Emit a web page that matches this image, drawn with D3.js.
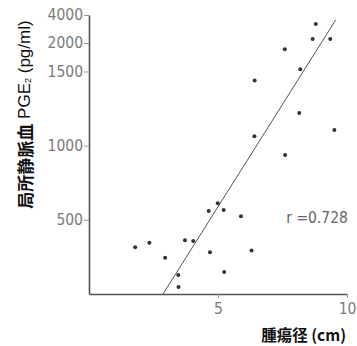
<!DOCTYPE html>
<html lang="ja">
<head>
<meta charset="UTF-8">
<title>腫瘍径と局所静脈血PGE2</title>
<script src="https://d3js.org/d3.v7.min.js"></script>
<style>
  body { margin: 0; background: #fff; }
  .title { font-family: "Noto Sans CJK JP", sans-serif; font-weight: bold; fill: #111; }
</style>
</head>
<body>
<svg width="357" height="346"></svg>
<script>
// tumor diameter (cm)
const diameter = [8.79, 8.67, 9.35, 7.59, 8.19, 6.42, 8.15, 9.51, 6.41, 7.60, 4.99, 4.64,
                  5.22, 5.89, 1.79, 2.34, 2.95, 3.72, 4.04, 4.69, 6.30, 3.46, 5.24, 3.47];
// local venous PGE2 (pg/ml)
const pge2 = [3360, 2290, 2290, 1890, 1540, 1440, 1220, 1105, 1063, 937, 612, 560,
              567, 524, 316, 345, 244, 362, 358, 282, 294, 128, 148, 48];
// regression line endpoints
const fitX = [2.87, 9.56];
const fitY = [0, 3640];
const yTicks = [500, 1000, 1500, 2000, 4000];
const xTicks = [5, 10];
const rLabel = "r =0.728";

const svg = d3.select("svg");

const x = d3.scaleLinear().domain([0, 10]).range([89, 347]);
// compressed scale above 1500
const y = d3.scaleLinear().domain([0, 1500, 2000, 4000]).range([294, 71.5, 43, 15]);

function tickFont(sel) {
  sel.attr("fill", null)
    .style("font-family", "'DejaVu Sans', sans-serif")
    .style("font-stretch", "condensed")
    .style("font-size", "15.5px")
    .style("fill", "#7a7a7a");
}

// axes
const yAxis = svg.append("g").attr("transform", "translate(89,0)")
  .call(d3.axisLeft(y).tickValues(yTicks).tickFormat(d3.format("d"))
    .tickSize(5).tickSizeOuter(0).tickPadding(1));
yAxis.select(".domain").attr("stroke", "#555").attr("stroke-width", 1.6);
yAxis.selectAll(".tick line").attr("stroke", "#999");
yAxis.selectAll(".tick text").call(tickFont);

const xAxis = svg.append("g").attr("transform", `translate(0,${y(0)})`)
  .call(d3.axisBottom(x).tickValues(xTicks).tickFormat(d3.format("d"))
    .tickSize(4).tickSizeOuter(0).tickPadding(5));
xAxis.select(".domain").attr("stroke", "#555").attr("stroke-width", 1.6);
xAxis.selectAll(".tick line").attr("stroke", "#999");
xAxis.selectAll(".tick text").call(tickFont);

// regression line
svg.append("path")
  .datum(d3.zip(fitX, fitY))
  .attr("fill", "none")
  .attr("stroke", "#555")
  .attr("stroke-width", 1)
  .attr("d", d3.line().x(d => x(d[0])).y(d => y(d[1])));

// points
svg.selectAll(".pt")
  .data(d3.zip(diameter, pge2))
  .enter()
  .append("circle")
  .attr("class", "pt")
  .attr("cx", d => x(d[0]))
  .attr("cy", d => y(d[1]))
  .attr("r", 2)
  .attr("fill", "#333");

svg.append("text")
  .attr("x", 348)
  .attr("y", 223)
  .attr("text-anchor", "end")
  .call(tickFont)
  .style("fill", "#666")
  .text(rLabel);

// y title
const yt = svg.append("text")
  .attr("class", "title")
  .attr("transform", "translate(24,114.5) rotate(-90)")
  .attr("text-anchor", "middle")
  .attr("dominant-baseline", "central")
  .style("font-size", "17px");
yt.append("tspan").text("局所静脈血");
yt.append("tspan").style("font-family", "'Liberation Sans', sans-serif").style("font-weight", "normal").text(" PGE");
yt.append("tspan").style("font-family", "'Liberation Sans', sans-serif").style("font-weight", "normal")
  .style("font-size", "9px").attr("dy", 4).text("2");
yt.append("tspan").style("font-family", "'Liberation Sans', sans-serif").style("font-weight", "normal")
  .attr("dy", -4).text(" (pg/ml)");

// x title
svg.append("text")
  .attr("class", "title")
  .attr("x", 346)
  .attr("y", 341)
  .attr("text-anchor", "end")
  .style("font-size", "15.5px")
  .text("腫瘍径 (cm)");
</script>
</body>
</html>
